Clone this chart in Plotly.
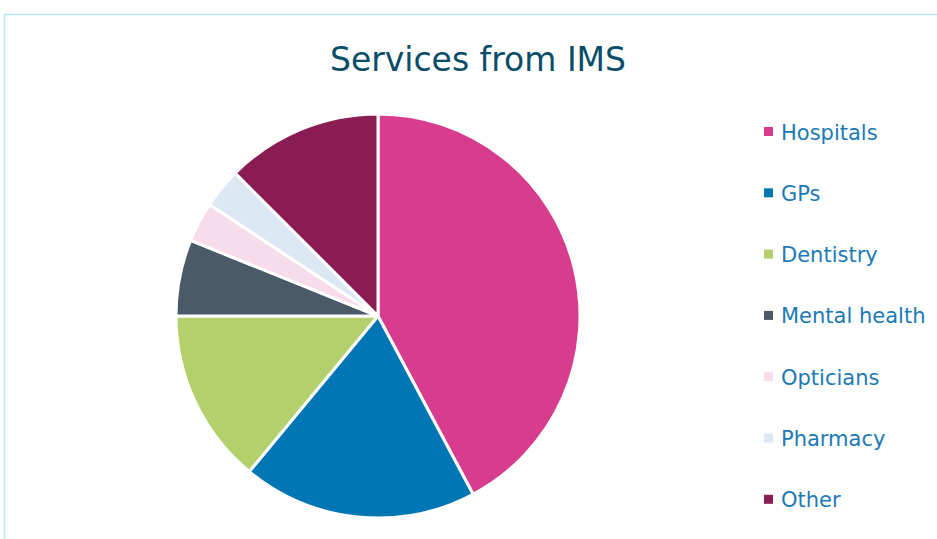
import plotly.graph_objects as go

labels = ["Hospitals", "GPs", "Dentistry", "Mental health", "Opticians", "Pharmacy", "Other"]
values = [42.2, 18.8, 14.0, 6.1, 3.2, 3.2, 12.5]
colors = ["#D83C8E", "#0077B4", "#B3D06C", "#4B5A68", "#F7DDEC", "#DCE8F4", "#8A1C54"]

W, H = 937, 539
cx, cy, r = 378, 316, 202

fig = go.Figure()
fig.add_trace(go.Pie(
    labels=labels, values=values, sort=False, direction="clockwise", rotation=0,
    marker=dict(colors=colors, line=dict(color="white", width=3)),
    textinfo="none", hoverinfo="label+percent", showlegend=False,
    domain=dict(x=[(cx - r) / W, (cx + r) / W], y=[(H - cy - r) / H, (H - cy + r) / H]),
))

# legend built from labels/colors
shapes = [dict(type="rect", xref="paper", yref="paper", x0=4.5 / W, y0=-0.1, x1=1.1, y1=(H - 14.5) / H,
               line=dict(color="#B8E8F8", width=1.5), fillcolor="rgba(0,0,0,0)", layer="below")]
annotations = []
y0, step = 131.5, 61.3
for i, (lab, col) in enumerate(zip(labels, colors)):
    yy = y0 + i * step
    shapes.append(dict(type="rect", xref="paper", yref="paper",
                       x0=764 / W, x1=773 / W, y0=(H - yy - 4.5) / H, y1=(H - yy + 4.5) / H,
                       fillcolor=col, line=dict(width=0)))
    annotations.append(dict(text=lab, xref="paper", yref="paper", x=779 / W, y=(H - yy - 1) / H,
                            xanchor="left", yanchor="middle", showarrow=False,
                            font=dict(family="DejaVu Sans", size=21, color="#1B7AB6")))

fig.update_layout(
    width=W, height=H, margin=dict(l=0, r=0, t=0, b=0),
    paper_bgcolor="white", plot_bgcolor="white",
    title=dict(text="Services from IMS", x=478 / W, xanchor="center", y=(H - 59) / H, yanchor="middle",
               font=dict(family="DejaVu Sans", size=33, color="#0A4D68")),
    shapes=shapes, annotations=annotations,
)
fig.write_html("out.html")
